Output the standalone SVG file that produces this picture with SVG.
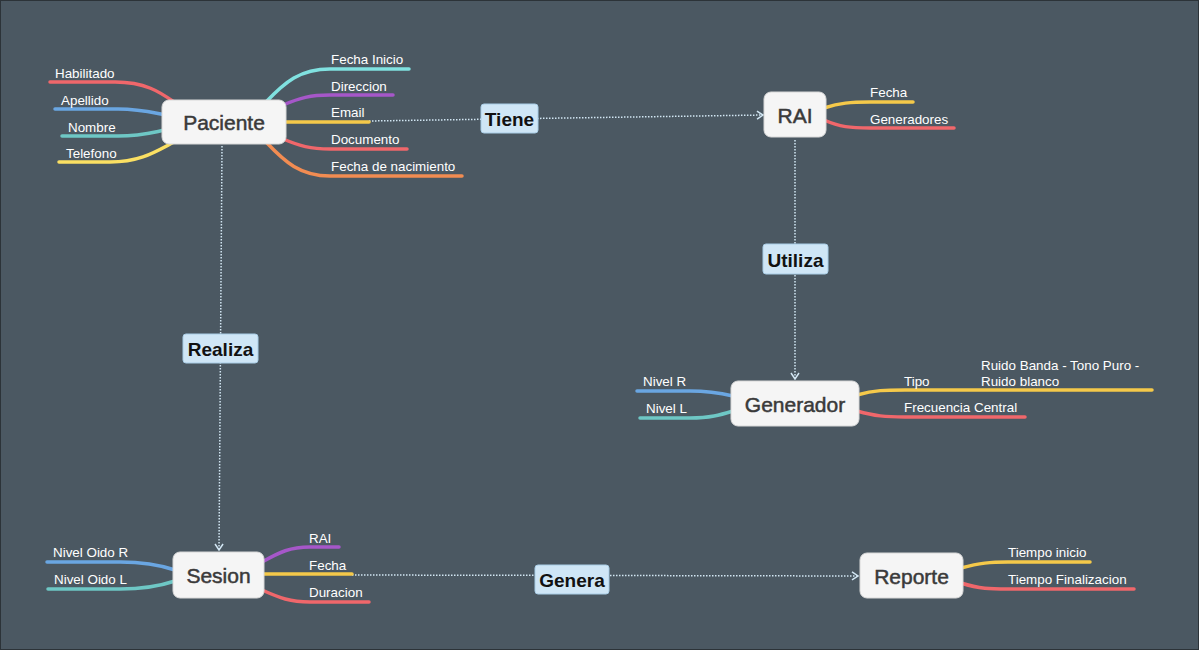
<svg xmlns="http://www.w3.org/2000/svg" width="1199" height="650" viewBox="0 0 1199 650">
<defs>
<style>
.bg{fill:#4b5862;stroke:#2c3338;stroke-width:2}
.node{fill:#f5f5f5;stroke:#d8d8d8;stroke-width:1}
.nt{font-family:"Liberation Sans",Arial,sans-serif;font-size:21px;fill:#3a3a3a;stroke:#3a3a3a;stroke-width:0.5;text-anchor:middle;dominant-baseline:central}
.lt{font-family:"Liberation Sans",Arial,sans-serif;font-size:13.4px;fill:#ffffff}
.br{fill:none;stroke-width:3.5;stroke-linecap:round}
.red{stroke:#f0676b}.blue{stroke:#6aa6e2}.teal{stroke:#6ec7c5}.yel{stroke:#fbe063}
.cyan{stroke:#80e1e0}.pur{stroke:#a657c9}.gold{stroke:#f5c94a}.org{stroke:#f28c52}
.con{fill:none;stroke:#d2e6f3;stroke-width:1.5;stroke-dasharray:1.5 1.5}
.lb{fill:#cfe6f6;stroke:#a9cde6;stroke-width:1}
.lbt{font-family:"Liberation Sans",Arial,sans-serif;font-size:19px;font-weight:bold;fill:#111;text-anchor:middle;dominant-baseline:central}
</style>
<marker id="arr" viewBox="0 0 10 10" refX="9" refY="5" markerWidth="10" markerHeight="10" markerUnits="userSpaceOnUse" orient="auto">
<path d="M3,1 L9,5 L3,9" fill="none" stroke="#d2e6f3" stroke-width="1.5"/>
</marker>
</defs>
<rect class="bg" x="0" y="0" width="1199" height="650"/>

<g id="connectors">
<path class="con" d="M369,121 L763,115" marker-end="url(#arr)"/>
<path class="con" d="M795,140 L795,379" marker-end="url(#arr)"/>
<path class="con" d="M222,146 L219,550" marker-end="url(#arr)"/>
<path class="con" d="M352,575 L858,576" marker-end="url(#arr)"/>
<g id="lbl-tiene"><rect class="lb" x="481" y="104" width="57" height="29" rx="3"/><text class="lbt" x="509.5" y="119">Tiene</text></g>
<g id="lbl-utiliza"><rect class="lb" x="763" y="244" width="65" height="30" rx="3"/><text class="lbt" x="795.5" y="260">Utiliza</text></g>
<g id="lbl-realiza"><rect class="lb" x="183" y="334" width="75" height="29" rx="3"/><text class="lbt" x="220.5" y="349">Realiza</text></g>
<g id="lbl-genera"><rect class="lb" x="535" y="565" width="74" height="29" rx="3"/><text class="lbt" x="572" y="580">Genera</text></g>
</g>

<g id="paciente">
<path class="br red" d="M50,82 L115,82 C145,82 160,92 174,102"/>
<path class="br blue" d="M55,109 L118,109 C140,109 150,112 165,115"/>
<path class="br teal" d="M62,136 L118,136 C140,136 150,133 165,130"/>
<path class="br yel" d="M59,162 L110,162 C140,162 155,152 174,142"/>
<path class="br cyan" d="M266,102 C285,82 300,69 330,69 L409,69"/>
<path class="br pur" d="M283,105 C300,98 310,95 330,95 L393,95"/>
<path class="br gold" d="M284,122 L369,122"/>
<path class="br red" d="M283,139 C300,146 310,149 330,149 L407,149"/>
<path class="br org" d="M266,142 C285,162 300,176 330,176 L462,176"/>
<rect class="node" x="162" y="100" width="124" height="44" rx="7"/>
<text class="nt" x="224" y="122">Paciente</text>
<text class="lt" x="55" y="78">Habilitado</text>
<text class="lt" x="61" y="105">Apellido</text>
<text class="lt" x="68" y="132">Nombre</text>
<text class="lt" x="66" y="158">Telefono</text>
<text class="lt" x="331" y="64">Fecha Inicio</text>
<text class="lt" x="331" y="91">Direccion</text>
<text class="lt" x="331" y="117">Email</text>
<text class="lt" x="331" y="144">Documento</text>
<text class="lt" x="331" y="171">Fecha de nacimiento</text>
</g>

<g id="rai">
<path class="br gold" d="M824,108 C840,103 850,102 870,102 L913,102"/>
<path class="br red" d="M824,120 C840,127 850,128 870,128 L954,128"/>
<rect class="node" x="764" y="92" width="62" height="45" rx="7"/>
<text class="nt" x="795" y="115">RAI</text>
<text class="lt" x="870" y="97">Fecha</text>
<text class="lt" x="870" y="124">Generadores</text>
</g>

<g id="generador">
<path class="br blue" d="M637,391 L690,391 C710,391 720,393 733,396"/>
<path class="br teal" d="M640,418 L690,418 C710,418 720,415 733,411"/>
<path class="br gold" d="M857,395 C875,390 885,390 905,390 L1152,390"/>
<path class="br red" d="M857,411 C875,416 885,417 905,417 L1025,417"/>
<rect class="node" x="731" y="381" width="128" height="45" rx="7"/>
<text class="nt" x="795" y="404">Generador</text>
<text class="lt" x="643" y="386">Nivel R</text>
<text class="lt" x="646" y="413">Nivel L</text>
<text class="lt" x="904" y="386">Tipo</text>
<text class="lt" x="981" y="370">Ruido Banda - Tono Puro -</text>
<text class="lt" x="981" y="386">Ruido blanco</text>
<text class="lt" x="904" y="412">Frecuencia Central</text>
</g>

<g id="sesion">
<path class="br blue" d="M47,562 L120,562 C145,562 160,565 175,570"/>
<path class="br teal" d="M48,589 L120,589 C145,589 160,586 175,581"/>
<path class="br pur" d="M262,562 C280,552 290,547 310,547 L339,547"/>
<path class="br gold" d="M262,574 L352,574"/>
<path class="br red" d="M262,590 C280,598 290,602 310,602 L369,602"/>
<rect class="node" x="173" y="552" width="91" height="46" rx="7"/>
<text class="nt" x="218.5" y="575">Sesion</text>
<text class="lt" x="53" y="557">Nivel Oido R</text>
<text class="lt" x="54" y="584">Nivel Oido L</text>
<text class="lt" x="309" y="543">RAI</text>
<text class="lt" x="309" y="570">Fecha</text>
<text class="lt" x="309" y="597">Duracion</text>
</g>

<g id="reporte">
<path class="br gold" d="M961,568 C980,563 990,562 1008,562 L1090,562"/>
<path class="br red" d="M961,583 C980,589 990,589 1008,589 L1134,589"/>
<rect class="node" x="860" y="553" width="103" height="45" rx="7"/>
<text class="nt" x="911.5" y="576">Reporte</text>
<text class="lt" x="1008" y="557">Tiempo inicio</text>
<text class="lt" x="1008" y="584">Tiempo Finalizacion</text>
</g>
</svg>
